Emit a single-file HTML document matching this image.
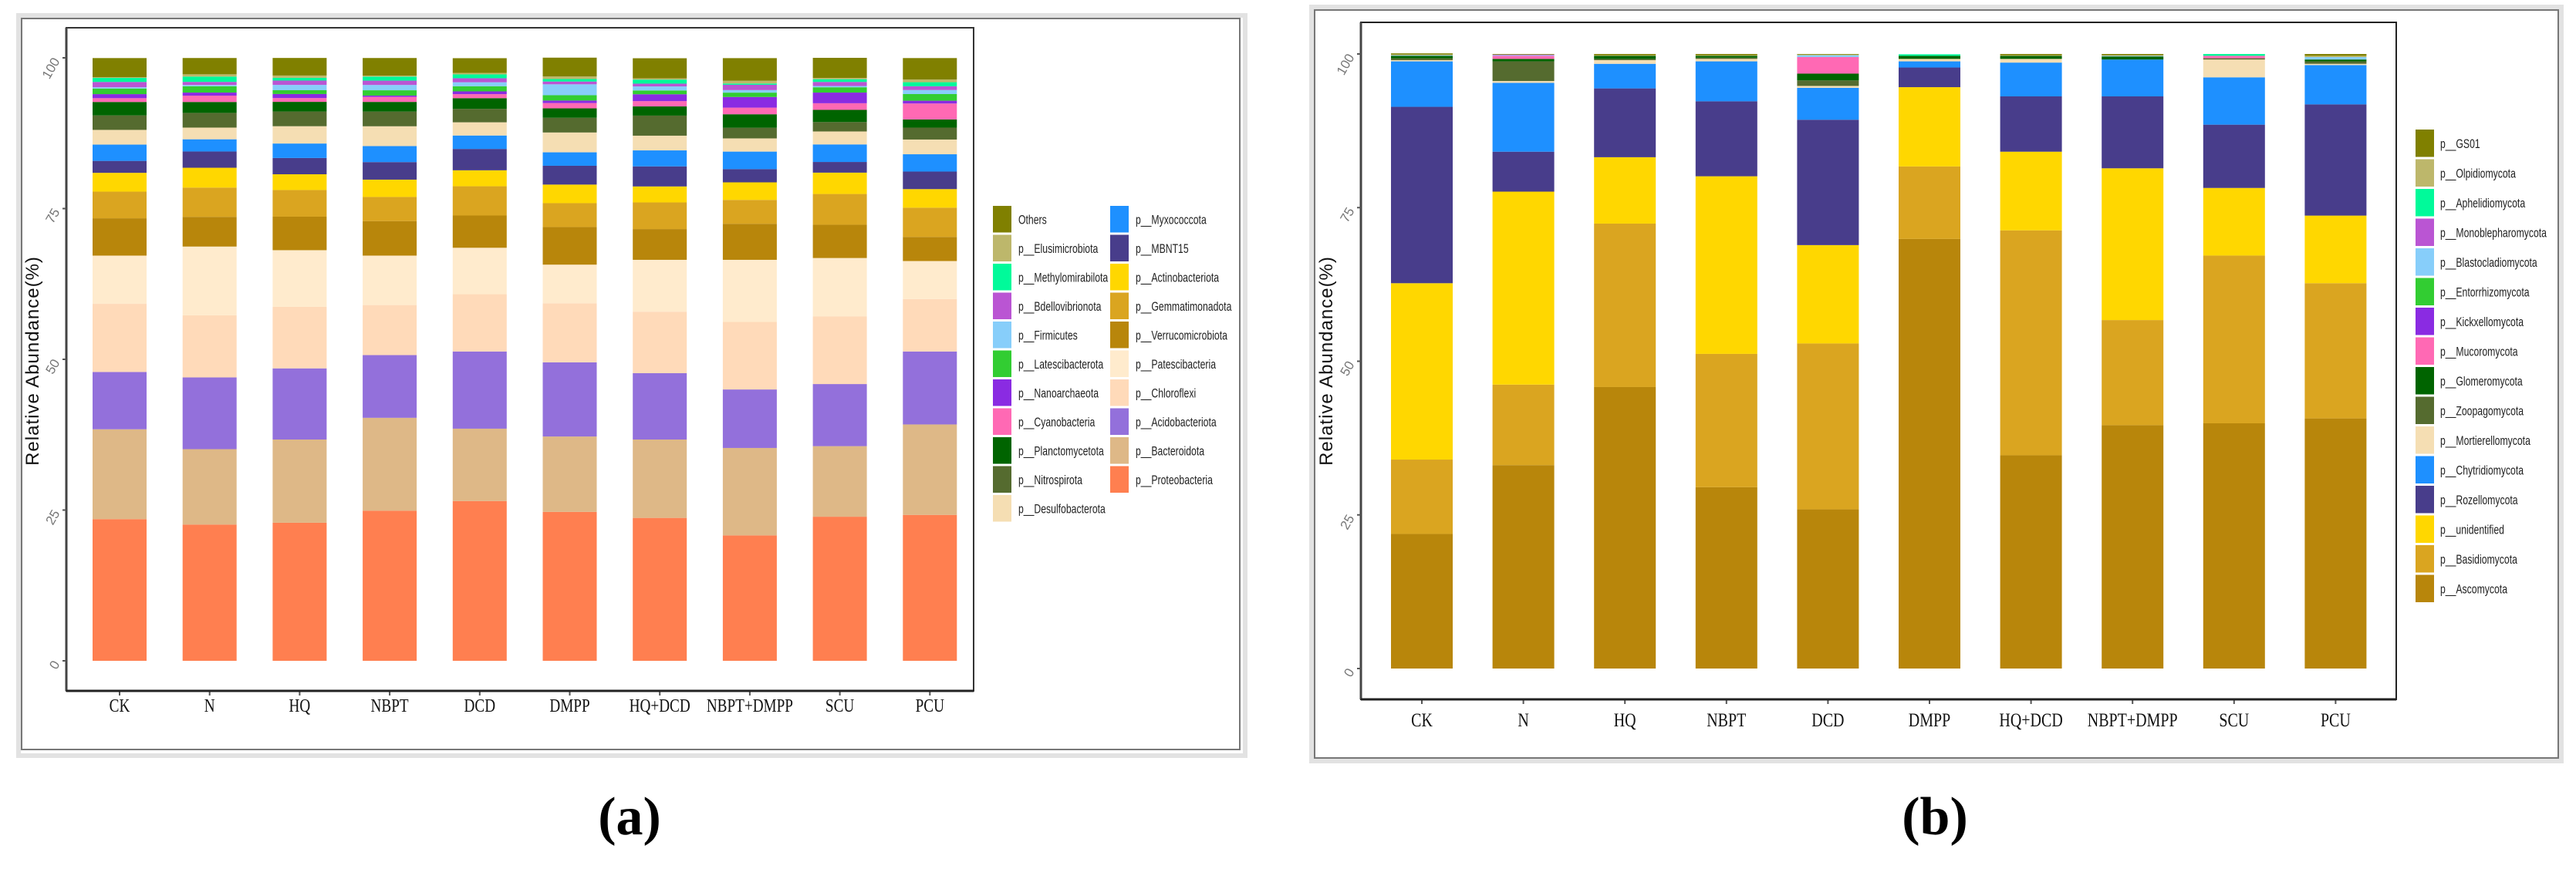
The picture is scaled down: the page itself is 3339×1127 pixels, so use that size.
<!DOCTYPE html>
<html><head><meta charset="utf-8">
<style>
html,body{margin:0;padding:0;background:#fff;}
svg{display:block;}
</style></head>
<body>
<svg id="fig" width="3339" height="1127" viewBox="0 0 3339 1127" xmlns="http://www.w3.org/2000/svg">
  <rect x="0" y="0" width="3339" height="1127" fill="#fff"/>
  <g id="panelA">
    <rect x="24" y="20" width="1590" height="960" fill="none" stroke="#e2e2e2" stroke-width="6"/>
    <rect x="28" y="24" width="1579" height="948" fill="#fff" stroke="#777" stroke-width="2"/>
    <rect x="86" y="36" width="1176" height="860" fill="#fff" stroke="#333" stroke-width="2"/>
  </g>
  <g id="panelB">
    <rect x="1700" y="9" width="1620" height="978" fill="none" stroke="#e2e2e2" stroke-width="6"/>
    <rect x="1704" y="13" width="1612" height="970" fill="#fff" stroke="#777" stroke-width="2"/>
    <rect x="1764" y="29" width="1342" height="878" fill="#fff" stroke="#222" stroke-width="2"/>
  </g>
  <text x="816" y="1082" text-anchor="middle" font-family="Liberation Serif, serif" font-weight="bold" font-size="70" fill="#000">(a)</text>
  <text x="2508" y="1082" text-anchor="middle" font-family="Liberation Serif, serif" font-weight="bold" font-size="70" fill="#000">(b)</text>
</svg>
<script>
// ---------- Panel A data ----------
const samplesA = ["CK","N","HQ","NBPT","DCD","DMPP","HQ+DCD","NBPT+DMPP","SCU","PCU"];
const taxaA = ["p__Proteobacteria","p__Bacteroidota","p__Acidobacteriota","p__Chloroflexi","p__Patescibacteria","p__Verrucomicrobiota","p__Gemmatimonadota","p__Actinobacteriota","p__MBNT15","p__Myxococcota","p__Desulfobacterota","p__Nitrospirota","p__Planctomycetota","p__Cyanobacteria","p__Nanoarchaeota","p__Latescibacterota","p__Firmicutes","p__Bdellovibrionota","p__Methylomirabilota","p__Elusimicrobiota","Others"];
const colorsA = ["#FF7F50","#DEB887","#9370DB","#FFDAB9","#FFEBCD","#B8860B","#DAA520","#FFD700","#483D8B","#1E90FF","#F5DEB3","#556B2F","#006400","#FF69B4","#8A2BE2","#32CD32","#87CEFA","#BA55D3","#00FA9A","#BDB76B","#808000"];
const proteobacteria = [23.5,22.6,22.9,24.9,26.5,24.7,23.7,20.8,23.9,24.2];
const bacteroidota   = [14.9,12.5,13.8,15.4,12.0,12.5,13.0,14.5,11.7,15.0];
const acidobacteriota= [9.5,11.9,11.8,10.4,12.8,12.3,11.0,9.7,10.3,12.1];
const chloroflexi    = [11.3,10.3,10.2,8.3,9.5,9.8,10.2,11.2,11.2,8.7];
const patescibacteria= [8.0,11.4,9.4,8.2,7.7,6.4,8.6,10.3,9.7,6.3];
const verrucomicrobiota=[6.19,4.93,5.56,5.73,5.35,6.24,5.10,5.98,5.52,4.00];
const gemmatimonadota= [4.42,4.85,4.42,4.00,4.85,3.96,4.42,3.96,5.10,4.85];
const actinobacteriota=[3.12,3.29,2.61,2.87,2.65,3.08,2.65,2.91,3.54,3.08];
const mbnt15         = [1.98,2.70,2.70,2.91,3.54,3.12,3.33,2.19,1.77,2.91];
const myxococcota    = [2.70,2.02,2.40,2.65,2.23,2.23,2.65,2.91,2.91,2.87];
const desulfobacterota=[2.44,1.94,2.87,3.29,2.19,3.29,2.44,2.19,2.15,2.44];
const nitrospirota   = [2.40,2.44,2.44,2.44,2.23,2.44,3.33,1.77,1.56,1.98];
const planctomycetota= [2.23,1.81,1.60,1.60,1.77,1.56,1.52,2.23,2.02,1.35];
const cyanobacteria  = [0.63,1.05,0.63,0.84,0.67,0.88,0.88,1.10,1.10,2.65];
const nanoarchaeota  = [0.67,0.51,0.67,0.21,0.46,0.42,1.14,1.77,1.77,0.46];
const latescibacterota=[0.93,1.05,0.63,0.88,0.84,0.88,0.63,0.72,0.88,1.10];
const firmicutes     = [0.21,0.21,0.88,0.88,0.67,1.81,0.67,0.42,0.21,0.67];
const bdellovibrionota=[0.88,0.51,0.72,0.72,0.67,0.46,0.46,0.88,0.67,0.63];
const methylomirabilota=[0.67,0.88,0.46,0.67,0.63,0.42,0.67,0.21,0.46,0.67];
const elusimicrobiota= [0.13,0.38,0.38,0.17,0.25,0.42,0.21,0.46,0.21,0.46];
const othersA        = [3.16,2.70,2.91,2.91,2.44,3.12,3.33,3.75,3.33,3.54];
const seriesA = [proteobacteria,bacteroidota,acidobacteriota,chloroflexi,patescibacteria,verrucomicrobiota,gemmatimonadota,actinobacteriota,mbnt15,myxococcota,desulfobacterota,nitrospirota,planctomycetota,cyanobacteria,nanoarchaeota,latescibacterota,firmicutes,bdellovibrionota,methylomirabilota,elusimicrobiota,othersA];
const ticksA = ["0","25","50","75","100"];
const tickValsA = [0,25,50,75,100];

// ---------- Panel B data ----------
const samplesB = ["CK","N","HQ","NBPT","DCD","DMPP","HQ+DCD","NBPT+DMPP","SCU","PCU"];
const taxaB = ["p__Ascomycota","p__Basidiomycota","p__unidentified","p__Rozellomycota","p__Chytridiomycota","p__Mortierellomycota","p__Zoopagomycota","p__Glomeromycota","p__Mucoromycota","p__Kickxellomycota","p__Entorrhizomycota","p__Blastocladiomycota","p__Monoblepharomycota","p__Aphelidiomycota","p__Olpidiomycota","p__GS01"];
const colorsB = ["#B8860B","#DAA520","#FFD700","#483D8B","#1E90FF","#F5DEB3","#556B2F","#006400","#FF69B4","#8A2BE2","#32CD32","#87CEFA","#BA55D3","#00FA9A","#BDB76B","#808000"];
const ascomycota     = [21.9,33.1,45.8,29.5,25.9,69.9,34.7,39.6,39.9,40.7];
const basidiomycota  = [12.1,13.1,26.6,21.7,27.0,11.8,36.6,17.1,27.3,22.0];
const unidentified   = [28.7,31.4,10.8,28.9,16.0,12.9,12.8,24.7,11.0,11.0];
const rozellomycota  = [28.7,6.5,11.2,12.2,20.4,3.2,9.0,11.7,10.3,18.1];
const chytridiomycota= [7.4,11.2,4.0,6.5,5.2,1.0,5.5,6.0,7.7,6.4];
const mortierellomycota=[0.2,0.3,0.6,0.4,0.3,0.4,0.6,0.0,2.9,0.2];
const zoopagomycota  = [0.3,3.2,0.2,0.2,0.9,0.0,0.0,0.0,0.2,0.4];
const glomeromycota  = [0.4,0.4,0.5,0.3,1.1,0.5,0.5,0.5,0.0,0.3];
const mucoromycota   = [0.0,0.5,0.0,0.0,2.7,0.0,0.0,0.0,0.4,0.0];
const kickxellomycota= [0.0,0.0,0.0,0.0,0.0,0.0,0.0,0.0,0.0,0.0];
const entorrhizomycota=[0.0,0.0,0.0,0.0,0.0,0.0,0.0,0.0,0.0,0.0];
const blastocladiomycota=[0.1,0.1,0.0,0.0,0.3,0.0,0.0,0.1,0.0,0.4];
const monoblepharomycota=[0.0,0.1,0.0,0.0,0.0,0.0,0.0,0.0,0.0,0.0];
const aphelidiomycota= [0.0,0.0,0.0,0.0,0.0,0.25,0.0,0.0,0.3,0.0];
const olpidiomycota  = [0.1,0.0,0.1,0.1,0.1,0.0,0.1,0.1,0.0,0.2];
const gs01           = [0.2,0.1,0.2,0.2,0.1,0.0,0.2,0.2,0.0,0.3];
const seriesB = [ascomycota,basidiomycota,unidentified,rozellomycota,chytridiomycota,mortierellomycota,zoopagomycota,glomeromycota,mucoromycota,kickxellomycota,entorrhizomycota,blastocladiomycota,monoblepharomycota,aphelidiomycota,olpidiomycota,gs01];
const ticksB = ["0","25","50","75","100"];
const tickValsB = [0,25,50,75,100];

const NS = "http://www.w3.org/2000/svg";
function mk(tag, attrs, parent){
  const e = document.createElementNS(NS, tag);
  for (const k in attrs) e.setAttribute(k, attrs[k]);
  parent.appendChild(e);
  return e;
}

function drawChart(g, cfg, samples, series, colors, taxa, tickLabels, tickVals, legendCols){
  const yScale = v => cfg.y0 - v * (cfg.y0 - cfg.y100) / 100;
  const xCenter = i => cfg.x0 + i * cfg.pitch;
  samples.forEach((s, i) => {
    let cum = 0;
    series.forEach((arr, k) => {
      const v = arr[i];
      if (v <= 0) { return; }
      const yTop = yScale(cum + v), yBot = yScale(cum);
      const r = mk('rect', {x: xCenter(i) - cfg.bw/2, y: yTop, width: cfg.bw, height: Math.max(0, yBot - yTop), fill: colors[k]}, g);
      
      
      cum += v;
    });
    const t = mk('line', {x1: xCenter(i), x2: xCenter(i), y1: cfg.axisY, y2: cfg.axisY + 6, stroke: '#555', 'stroke-width': 2}, g);
    
    
    const lbl = mk('text', {x: xCenter(i), y: cfg.labelY, 'text-anchor': 'middle', 'font-family': 'Liberation Serif, serif', 'font-size': cfg.labelSize, fill: '#111', transform: `translate(${xCenter(i)},0) scale(0.8,1) translate(${-xCenter(i)},0)`}, g);
    lbl.textContent = s;
    
    
  });
  const ax = mk('line', {x1: cfg.axisX, x2: cfg.axisX, y1: cfg.plotTop, y2: cfg.axisY, stroke: '#444', 'stroke-width': 3}, g);
  
  
  const axx = mk('line', {x1: cfg.axisX, x2: cfg.plotRight, y1: cfg.axisY, y2: cfg.axisY, stroke: '#222', 'stroke-width': 3}, g);
  
  
  tickVals.forEach((v, j) => {
    const y = yScale(v);
    const tk = mk('line', {x1: cfg.axisX - 5, x2: cfg.axisX, y1: y, y2: y, stroke: '#555', 'stroke-width': 2}, g);
    
    
    const tl = mk('text', {x: cfg.axisX - 8, y: y + 4, 'text-anchor': 'end', 'font-family': 'Liberation Sans, sans-serif', 'font-size': 17, fill: '#777', transform: `rotate(-60 ${cfg.axisX - 8} ${y + 4})`}, g);
    tl.textContent = tickLabels[j];
    
    
  });
  const yt = mk('text', {x: cfg.titleX, y: cfg.titleY, 'text-anchor': 'middle', 'font-family': 'Liberation Sans, sans-serif', 'font-size': 24, fill: '#111', 'letter-spacing': 1, transform: `rotate(-90 ${cfg.titleX} ${cfg.titleY})`}, g);
  yt.textContent = 'Relative Abundance(%)';
  
  
  const order = taxa.map((t, k) => k).reverse();
  const perCol = Math.ceil(order.length / legendCols);
  order.forEach((k, idx) => {
    const col = Math.floor(idx / perCol), row = idx % perCol;
    const lx = cfg.legX + col * cfg.legColW, ly = cfg.legY + row * cfg.legPitch;
    const sw = mk('rect', {x: lx, y: ly, width: 24, height: cfg.legPitch - 3, fill: colors[k]}, g);
    
    
    const tx = lx + cfg.legTextDx;
    const lt = mk('text', {x: tx, y: ly + cfg.legPitch/2 + 5, 'font-family': 'Liberation Sans, sans-serif', 'font-size': 17, fill: '#222', transform: `translate(${tx},0) scale(0.72,1) translate(${-tx},0)`}, g);
    lt.textContent = taxa[k];
    
    
  });
}

drawChart(document.getElementById('panelA'), {
  y0: 857, y100: 75, x0: 155, pitch: 116.7, bw: 70, axisX: 86, axisY: 896, plotTop: 36, plotRight: 1262,
  labelY: 923, labelSize: 24, titleX: 50, titleY: 468,
  legX: 1287, legY: 267, legPitch: 37.5, legColW: 152, legTextDx: 33
}, samplesA, seriesA, colorsA, taxaA, ticksA, tickValsA, 2);

drawChart(document.getElementById('panelB'), {
  y0: 867, y100: 70, x0: 1843, pitch: 131.6, bw: 80, axisX: 1764, axisY: 907, plotTop: 29, plotRight: 3106,
  labelY: 942, labelSize: 25, titleX: 1727, titleY: 468,
  legX: 3131, legY: 168, legPitch: 38.5, legColW: 0, legTextDx: 32
}, samplesB, seriesB, colorsB, taxaB, ticksB, tickValsB, 1);
</script>
</body></html>
